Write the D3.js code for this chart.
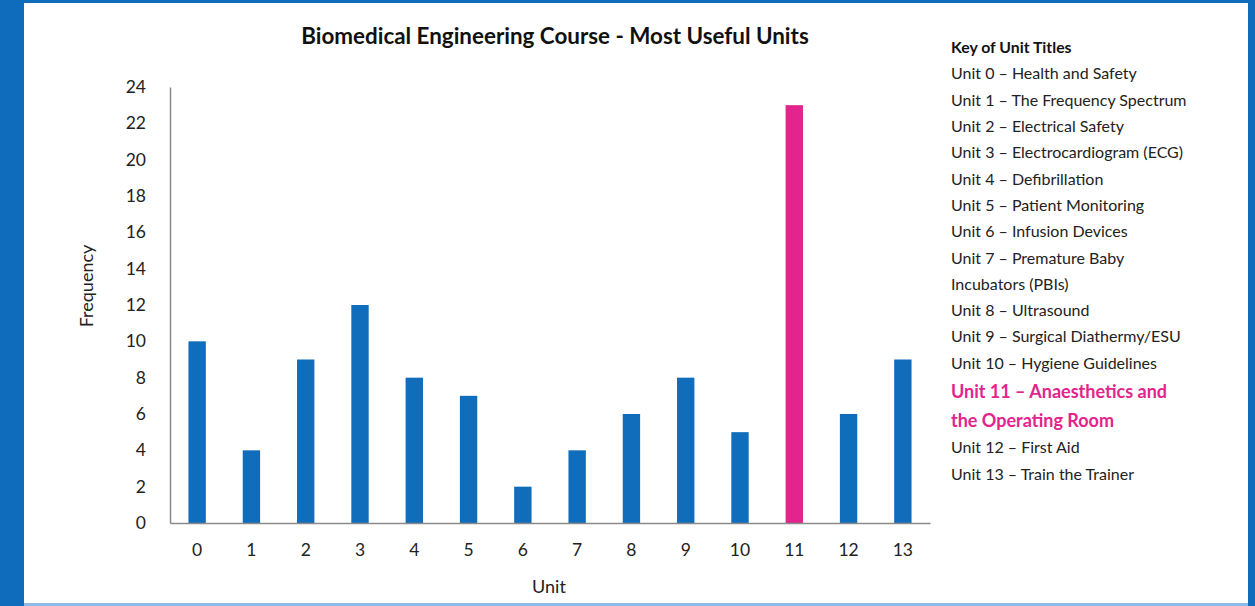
<!DOCTYPE html>
<html>
<head>
<meta charset="utf-8">
<script src="https://cdn.jsdelivr.net/npm/d3@7"></script>
<style>
  body { margin: 0; background: #0f6cbd; }
  svg { display: block; }
</style>
</head>
<body>
<div id="chart"></div>
<script>
// donnees
const units = ["0", "1", "2", "3", "4", "5", "6", "7", "8", "9", "10", "11", "12", "13"];
const frequencies = [10, 4, 9, 12, 8, 7, 2, 4, 6, 8, 5, 23, 6, 9];
const highlightUnit = "11";
const yTicks = [0, 2, 4, 6, 8, 10, 12, 14, 16, 18, 20, 22, 24];
const keyTitle = "Key of Unit Titles";
const keyLines = [
  "Unit 0 \u2013 Health and Safety",
  "Unit 1 \u2013 The Frequency Spectrum",
  "Unit 2 \u2013 Electrical Safety",
  "Unit 3 \u2013 Electrocardiogram (ECG)",
  "Unit 4 \u2013 Defibrillation",
  "Unit 5 \u2013 Patient Monitoring",
  "Unit 6 \u2013 Infusion Devices",
  "Unit 7 \u2013 Premature Baby",
  "Incubators (PBIs)",
  "Unit 8 \u2013 Ultrasound",
  "Unit 9 \u2013 Surgical Diathermy/ESU",
  "Unit 10 \u2013 Hygiene Guidelines",
  "Unit 11 \u2013 Anaesthetics and",
  "the Operating Room",
  "Unit 12 \u2013 First Aid",
  "Unit 13 \u2013 Train the Trainer"
];
const highlightLines = [12, 13];

const W = 1255, H = 606;
const font = "Lato, 'Open Sans', sans-serif";
const blue = "#0f6dbb", pink = "#e2248c";

const svg = d3.select("#chart").append("svg")
  .attr("width", W).attr("height", H);

// cadre bleu + fond blanc
svg.append("rect").attr("width", W).attr("height", H).attr("fill", "#0f6cbd");
svg.append("rect").attr("x", 24).attr("y", 3).attr("width", 1224).attr("height", 601).attr("fill", "#fff");
svg.append("rect").attr("x", 24).attr("y", 603).attr("width", 1224).attr("height", 3).attr("fill", "#8fbce6");

// echelles
const x = d3.scaleBand().domain(units).range([170, 930]).paddingInner(0.68).paddingOuter(0.34);
const y = d3.scaleLinear().domain([0, 24]).range([523, 87]);

// barres
svg.selectAll("rect.bar")
  .data(units)
  .enter()
  .append("rect")
  .attr("class", "bar")
  .attr("x", d => x(d))
  .attr("y", (d, i) => y(frequencies[i]))
  .attr("width", x.bandwidth())
  .attr("height", (d, i) => y(0) - y(frequencies[i]))
  .attr("fill", d => d === highlightUnit ? pink : blue);

// axe Y
const yAxis = svg.append("g")
  .attr("transform", "translate(170,0)")
  .call(d3.axisLeft(y).tickValues(yTicks).tickSize(0).tickPadding(24));
yAxis.select(".domain").attr("stroke", "#8a8a8a").attr("stroke-width", 1.5);
yAxis.selectAll("text").attr("font-family", font).attr("font-size", 17.5).attr("fill", "#222");

// axe X
const xAxis = svg.append("g")
  .attr("transform", "translate(0,523)")
  .call(d3.axisBottom(x).tickSize(0).tickPadding(21));
xAxis.select(".domain").attr("stroke", "#8a8a8a").attr("stroke-width", 1.5);
xAxis.selectAll("text").attr("font-family", font).attr("font-size", 17.5).attr("fill", "#222");

// titres
svg.append("text")
  .attr("x", 555).attr("y", 44)
  .attr("text-anchor", "middle")
  .attr("font-family", font).attr("font-weight", "bold").attr("font-size", 22.4)
  .attr("fill", "#111")
  .text("Biomedical Engineering Course - Most Useful Units");

svg.append("text")
  .attr("x", 549).attr("y", 593)
  .attr("text-anchor", "middle")
  .attr("font-family", font).attr("font-size", 18).attr("fill", "#222")
  .text("Unit");

svg.append("text")
  .attr("transform", "translate(93,286) rotate(-90)")
  .attr("text-anchor", "middle")
  .attr("font-family", font).attr("font-size", 18).attr("fill", "#222")
  .text("Frequency");

// legende des unites
const key = svg.append("g").attr("transform", "translate(951,0)");
key.append("text")
  .attr("y", 53)
  .attr("font-family", font).attr("font-weight", "bold").attr("font-size", 15.8)
  .attr("fill", "#111")
  .text(keyTitle);

const lineY = [79, 106, 132, 158, 185, 211, 237, 264, 290, 316, 342, 369, 398, 427, 453, 480];
key.selectAll("text.line")
  .data(keyLines)
  .enter()
  .append("text")
  .attr("class", "line")
  .attr("y", (d, i) => lineY[i])
  .attr("font-family", font)
  .attr("font-size", (d, i) => highlightLines.includes(i) ? 18 : 16)
  .attr("font-weight", (d, i) => highlightLines.includes(i) ? "bold" : "normal")
  .attr("fill", (d, i) => highlightLines.includes(i) ? pink : "#222")
  .text(d => d);
</script>
</body>
</html>
